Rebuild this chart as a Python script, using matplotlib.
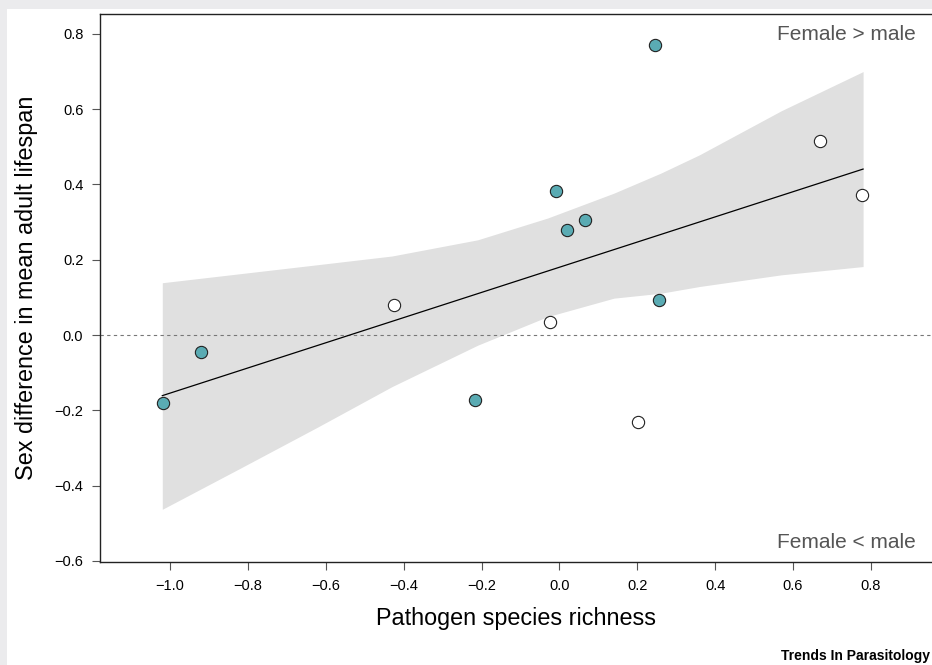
import numpy as np
import matplotlib
matplotlib.use('Agg')
import matplotlib.pyplot as plt
from matplotlib.patches import Rectangle

plt.rcParams['font.family'] = ['Liberation Sans', 'DejaVu Sans']

# points, teal group
teal_x = [-1.019, -0.920, -0.217, -0.009, 0.020, 0.066, 0.245, 0.256]
teal_y = [-0.181, -0.046, -0.172, 0.384, 0.278, 0.305, 0.770, 0.094]
# points, open group
open_x = [-0.424, -0.024, 0.202, 0.669, 0.778]
open_y = [0.080, 0.035, -0.232, 0.516, 0.373]

# fitted line (endpoints) and confidence band
fit_x = [-1.02, 0.78]
fit_y = [-0.161, 0.441]
band_x = [-1.02, -0.82, -0.62, -0.43, -0.21, -0.03, 0.14, 0.26, 0.36, 0.57, 0.78]
band_hi = [0.139, 0.163, 0.187, 0.210, 0.253, 0.311, 0.377, 0.43, 0.479, 0.596, 0.700]
band_lo = [-0.463, -0.354, -0.244, -0.137, -0.027, 0.049, 0.098, 0.111, 0.129, 0.160, 0.182]

xticks = [-1.0, -0.8, -0.6, -0.4, -0.2, 0.0, 0.2, 0.4, 0.6, 0.8]
yticks = [-0.6, -0.4, -0.2, 0.0, 0.2, 0.4, 0.6, 0.8]

teal = '#5aabb3'

def fmt(v):
    if v < 0:
        return '\u2212%.1f' % -v
    return '%.1f' % v

fig = plt.figure(figsize=(9.32, 6.65), dpi=100)
fig.patch.set_facecolor('#ebebed')
bg = Rectangle((7/932, 0), 1, 1 - 9/665, transform=fig.transFigure,
               facecolor='white', edgecolor='none', zorder=-10)
fig.patches.append(bg)

ax = fig.add_axes([100/932, 103/665, 832/932, 548/665])
ax.set_zorder(1)
ax.patch.set_alpha(0)
ax.fill_between(band_x, band_lo, band_hi, color='#e0e0e0', lw=0, zorder=1)
ax.axhline(0, color='#777777', ls=(0, (3, 3)), lw=0.8, zorder=2)
ax.plot(fit_x, fit_y, color='black', lw=0.9, zorder=3)
ax.scatter(teal_x, teal_y, s=78, c=teal, edgecolors='#222222', linewidths=0.8, zorder=4)
ax.scatter(open_x, open_y, s=78, c='white', edgecolors='#222222', linewidths=0.8, zorder=4)

ax.set_xlim(-1.18, 0.957)
ax.set_ylim(-0.603, 0.853)
ax.set_xticks(xticks)
ax.set_yticks(yticks)
ax.set_xticklabels([fmt(v) for v in xticks])
ax.set_yticklabels([fmt(v) for v in yticks])
ax.tick_params(direction='out', length=6, width=0.8, color='#555555', labelsize=10.5, pad=6)
ax.spines['right'].set_visible(False)
for s in ['top', 'left', 'bottom']:
    ax.spines[s].set_linewidth(1.0)
    ax.spines[s].set_color('#222222')

ax.set_xlabel('Pathogen species richness', fontsize=16.8, labelpad=10)
ax.set_ylabel('Sex difference in mean adult lifespan', fontsize=16.8, labelpad=12)

fig.text(916/932, 1 - 35/665, 'Female > male', ha='right', va='center', fontsize=15, color='#555555')
fig.text(916/932, 1 - 543/665, 'Female < male', ha='right', va='center', fontsize=15, color='#555555')
fig.text(930/932, 1 - 656/665, 'Trends In Parasitology', ha='right', va='center', fontsize=10,
         fontweight='bold', color='black')

fig.savefig('out.png', dpi=100, facecolor=fig.get_facecolor())
